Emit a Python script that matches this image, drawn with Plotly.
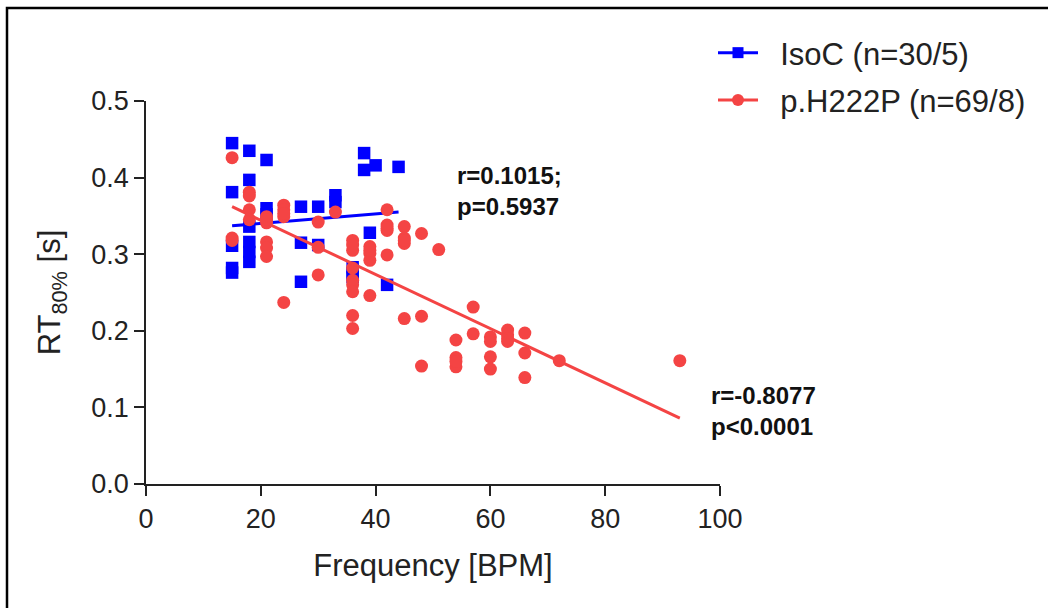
import plotly.graph_objects as go

# ---- data ----
iso_x = [15, 15, 15, 15, 15,
         18, 18, 18, 18, 18, 18,
         21, 21, 21,
         27, 27, 27,
         30, 30,
         33, 33,
         36, 36, 36,
         38, 38,
         40, 39,
         42,
         44]
iso_y = [0.445, 0.381, 0.311, 0.282, 0.276,
         0.435, 0.397, 0.336, 0.316, 0.303, 0.290,
         0.423, 0.360, 0.352,
         0.362, 0.315, 0.264,
         0.362, 0.312,
         0.377, 0.368,
         0.283, 0.275, 0.270,
         0.432, 0.410,
         0.416, 0.328,
         0.260,
         0.414]

h222p_x = [15, 15, 15,
           18, 18, 18, 18,
           21, 21, 21, 21, 21, 21,
           24, 24, 24, 24, 24,
           30, 30, 30,
           33,
           36, 36, 36, 36, 36, 36, 36, 36, 36,
           39, 39, 39, 39, 39,
           42, 42, 42, 42, 42,
           45, 45, 45, 45, 45,
           48, 48, 48,
           51,
           54, 54, 54, 54,
           57, 57,
           60, 60, 60, 60,
           63, 63, 63, 63,
           66, 66, 66,
           72,
           93]
h222p_y = [0.426, 0.321, 0.318,
           0.381, 0.376, 0.358, 0.345,
           0.349, 0.341, 0.316, 0.308, 0.297, 0.345,
           0.364, 0.358, 0.349, 0.353, 0.237,
           0.342, 0.309, 0.273,
           0.355,
           0.318, 0.305, 0.282, 0.266, 0.260, 0.251, 0.220, 0.203, 0.312,
           0.310, 0.301, 0.292, 0.246, 0.305,
           0.358, 0.338, 0.331, 0.299, 0.334,
           0.336, 0.321, 0.314, 0.216, 0.318,
           0.327, 0.219, 0.154,
           0.306,
           0.188, 0.165, 0.153, 0.160,
           0.231, 0.196,
           0.192, 0.186, 0.166, 0.150,
           0.201, 0.195, 0.186, 0.190,
           0.197, 0.171, 0.139,
           0.161,
           0.161]

iso_fit_x = [15, 44]
iso_fit_y = [0.337, 0.355]
h222p_fit_x = [15, 93]
h222p_fit_y = [0.362, 0.086]

iso_label = "IsoC (n=30/5)"
h222p_label = "p.H222P (n=69/8)"
iso_stats = "<b>r=0.1015;<br>p=0.5937</b>"
h222p_stats = "<b>r=-0.8077<br>p&lt;0.0001</b>"

BLUE = "#0000FF"
RED = "#F44444"
FONT = "Liberation Sans, Arial, sans-serif"
TXT = "#222222"

fig = go.Figure()

fig.add_trace(go.Scatter(x=iso_x, y=iso_y, mode="markers",
                         marker=dict(symbol="square", size=12.5, color=BLUE),
                         showlegend=False))
fig.add_trace(go.Scatter(x=iso_fit_x, y=iso_fit_y, mode="lines",
                         line=dict(color=BLUE, width=3), showlegend=False))
fig.add_trace(go.Scatter(x=h222p_x, y=h222p_y, mode="markers",
                         marker=dict(symbol="circle", size=13, color=RED),
                         showlegend=False))
fig.add_trace(go.Scatter(x=h222p_fit_x, y=h222p_fit_y, mode="lines",
                         line=dict(color=RED, width=3), showlegend=False))

# legend entries
NB = "\u00a0\u00a0"
fig.add_trace(go.Scatter(x=[None], y=[None], mode="lines+markers", name=NB + iso_label,
                         legendgroup="a",
                         marker=dict(symbol="square", size=11, color=BLUE),
                         line=dict(color=BLUE, width=3)))
fig.add_trace(go.Scatter(x=[None], y=[None], mode="lines+markers", name=NB + h222p_label,
                         legendgroup="b",
                         marker=dict(symbol="circle", size=12, color=RED),
                         line=dict(color=RED, width=3)))

fig.add_annotation(x=53.8, y=0.382, xref="x", yref="y", text=iso_stats,
                   showarrow=False, xanchor="left", yanchor="middle", align="left",
                   font=dict(family=FONT, size=24, color="#111"))
fig.add_annotation(x=98.1, y=0.095, xref="x", yref="y", text=h222p_stats,
                   showarrow=False, xanchor="left", yanchor="middle", align="left",
                   font=dict(family=FONT, size=24, color="#111"))

# frame around the figure
L, R, T, B = 146, 720, 101, 484
pw, ph = R - L, B - T
def px2paper_x(p):
    return (p - L) / pw
def px2paper_y(p):
    return (B - p) / ph
fig.add_shape(type="rect", xref="paper", yref="paper",
              x0=px2paper_x(7), x1=px2paper_x(1070),
              y0=px2paper_y(630), y1=px2paper_y(8),
              line=dict(color="black", width=2.5), fillcolor="rgba(0,0,0,0)")

axis_common = dict(showline=True, linecolor="#222", linewidth=1.5,
                   ticks="outside", ticklen=10, tickwidth=1.5, tickcolor="#222",
                   showgrid=False, zeroline=False, automargin=False,
                   tickfont=dict(family=FONT, size=27, color=TXT))

fig.update_xaxes(range=[0, 100], tickvals=[0, 20, 40, 60, 80, 100],
                 title=dict(text="Frequency [BPM]", standoff=21,
                            font=dict(family=FONT, size=31, color=TXT)),
                 **axis_common)
fig.update_yaxes(range=[0, 0.5], tickvals=[0, 0.1, 0.2, 0.3, 0.4, 0.5],
                 tickformat=".1f",
                 title=dict(text="RT<sub>80%</sub> [s]", standoff=21,
                            font=dict(family=FONT, size=31, color=TXT)),
                 **axis_common)

fig.update_layout(
    width=1048, height=608, autosize=False,
    margin=dict(l=L, r=1048 - R, t=T, b=608 - B, pad=0),
    paper_bgcolor="white", plot_bgcolor="white",
    font=dict(family=FONT, color=TXT),
    legend=dict(x=px2paper_x(713), y=px2paper_y(26), xanchor="left", yanchor="top",
                font=dict(family=FONT, size=31, color=TXT),
                bgcolor="rgba(0,0,0,0)", tracegroupgap=4, itemwidth=40),
)

fig.write_html("out.html")
